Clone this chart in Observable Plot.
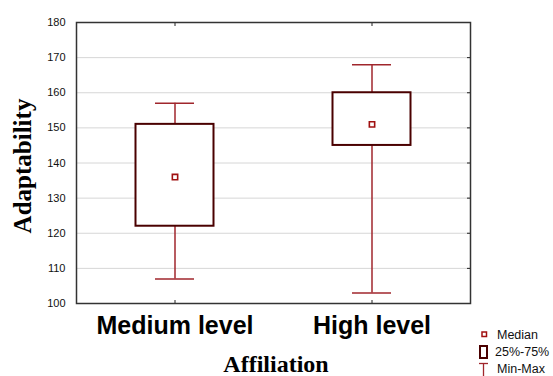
<!DOCTYPE html>
<html>
<head>
<meta charset="utf-8">
<script src="https://cdn.jsdelivr.net/npm/d3@7"></script>
<script src="https://cdn.jsdelivr.net/npm/@observablehq/plot@0.6"></script>
<style>
  html, body { margin: 0; padding: 0; background: white; }
  svg { display: block; }
</style>
</head>
<body>
<div id="chart"></div>
<script>
const categories = ["Medium level", "High level"];
const minVals = [107, 103];
const q1Vals = [122, 145];
const medianVals = [136, 151];
const q3Vals = [151, 160];
const maxVals = [157, 168];
const yTicks = [100, 110, 120, 130, 140, 150, 160, 170, 180];
const xLabel = "Affiliation";
const yLabel = "Adaptability";
const legendLabels = ["Median", "25%-75%", "Min-Max"];

const data = categories.map((c, i) => ({
  cat: c, min: minVals[i], q1: q1Vals[i], median: medianVals[i], q3: q3Vals[i], max: maxVals[i]
}));

const boxColor = "#4a0000";
const whiskerColor = "#a0262c";
const medianColor = "#a01010";
const blank = () => "";

const chart = Plot.plot({
  width: 553,
  height: 376,
  marginLeft: 76,
  marginRight: 83,
  marginTop: 22,
  marginBottom: 73,
  style: { fontFamily: "'Liberation Sans', Arial, sans-serif", background: "white", color: "#111" },
  x: { domain: categories, padding: 0 },
  y: { domain: [100, 180] },
  marks: [
    Plot.ruleY(yTicks.slice(1, -1), { stroke: "#d6d6d6", strokeWidth: 1 }),
    Plot.axisY(yTicks, { anchor: "left", tickSize: 0, tickPadding: 11, fontSize: 11, label: null, fill: "#111" }),
    Plot.axisY(yTicks, { anchor: "right", tickSize: 4, dx: -4, tickFormat: blank, label: null, stroke: "#222" }),
    Plot.axisX({ anchor: "bottom", tickSize: 3, dy: -3, tickFormat: blank, label: null, stroke: "#222" }),
    Plot.axisX({ anchor: "top", tickSize: 3, dy: 3, tickFormat: blank, label: null, stroke: "#222" }),
    Plot.axisX({ anchor: "bottom", tickSize: 0, tickPadding: 13, fontSize: 25, fontWeight: "bold", label: null, fill: "#000" }),
    Plot.ruleX(data, { x: "cat", y1: "min", y2: "q1", stroke: whiskerColor, strokeWidth: 1.5 }),
    Plot.ruleX(data, { x: "cat", y1: "q3", y2: "max", stroke: whiskerColor, strokeWidth: 1.5 }),
    Plot.tickY(data, { x: "cat", y: "min", stroke: whiskerColor, strokeWidth: 1.5, insetLeft: 79, insetRight: 79 }),
    Plot.tickY(data, { x: "cat", y: "max", stroke: whiskerColor, strokeWidth: 1.5, insetLeft: 79, insetRight: 79 }),
    Plot.barY(data, { x: "cat", y1: "q1", y2: "q3", fill: "white", stroke: boxColor, strokeWidth: 2, insetLeft: 59.5, insetRight: 59.5 }),
    Plot.dot(data, { x: "cat", y: "median", symbol: "square", r: 3, fill: "white", stroke: medianColor, strokeWidth: 1.6 }),
    Plot.frame({ stroke: "#333", strokeWidth: 1.5 })
  ]
});

document.getElementById("chart").appendChild(chart);

const svg = d3.select(chart);
// Axis titles
svg.append("text")
  .attr("x", 276).attr("y", 372)
  .attr("text-anchor", "middle")
  .attr("font-family", "'Liberation Serif', 'Times New Roman', serif")
  .attr("font-weight", "bold").attr("font-size", 24)
  .attr("fill", "#000")
  .text(xLabel);
svg.append("text")
  .attr("transform", "translate(31,166) rotate(-90)")
  .attr("text-anchor", "middle")
  .attr("font-family", "'Liberation Serif', 'Times New Roman', serif")
  .attr("font-weight", "bold").attr("font-size", 25)
  .attr("fill", "#000")
  .text(yLabel);

// Legend
const lg = svg.append("g")
  .attr("font-family", "'Liberation Sans', Arial, sans-serif")
  .attr("font-size", 12.5).attr("fill", "#111")
  .attr("text-anchor", "start");
lg.append("rect").attr("x", 482).attr("y", 332).attr("width", 4.5).attr("height", 4.5)
  .attr("fill", "white").attr("stroke", medianColor).attr("stroke-width", 1.5);
lg.append("text").attr("x", 497).attr("y", 339).text(legendLabels[0]);
lg.append("rect").attr("x", 480).attr("y", 346).attr("width", 7).attr("height", 12)
  .attr("fill", "white").attr("stroke", boxColor).attr("stroke-width", 2);
lg.append("text").attr("x", 495).attr("y", 356).text(legendLabels[1]);
lg.append("line").attr("x1", 479).attr("x2", 488).attr("y1", 363.5).attr("y2", 363.5)
  .attr("stroke", whiskerColor).attr("stroke-width", 1.3);
lg.append("line").attr("x1", 483.5).attr("x2", 483.5).attr("y1", 363).attr("y2", 376)
  .attr("stroke", whiskerColor).attr("stroke-width", 1.3);
lg.append("text").attr("x", 497).attr("y", 373).text(legendLabels[2]);
</script>
</body>
</html>
